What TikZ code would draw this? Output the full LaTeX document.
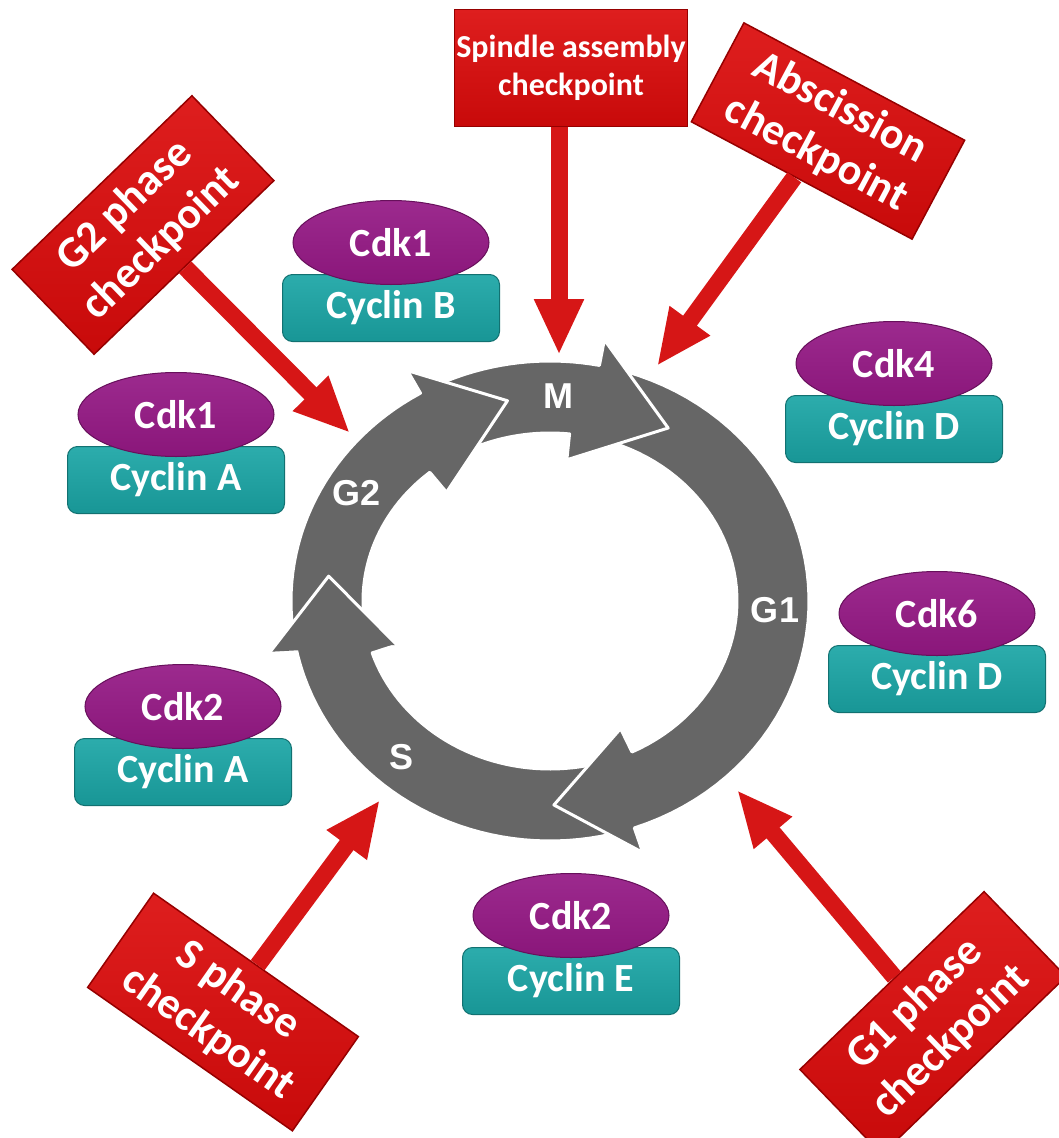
\documentclass[tikz,border=0pt]{standalone}
\usepackage{fontspec}
\setmainfont{Carlito}
\newfontfamily\phasefont{Liberation Sans}
\usepackage{tikz}
\usetikzlibrary{shapes,arrows.meta,positioning}

\definecolor{ringgray}{RGB}{102,102,102}
\definecolor{cdkpurple}{RGB}{138,22,122}
\definecolor{cdklight}{RGB}{156,42,142}
\definecolor{cycteal}{RGB}{24,150,150}
\definecolor{cyclight}{RGB}{44,172,172}
\definecolor{ckred}{RGB}{200,10,10}
\definecolor{cklight}{RGB}{222,30,30}
\definecolor{ckdark}{RGB}{150,0,0}
\definecolor{arrowred}{RGB}{214,22,22}

\begin{document}
\begin{tikzpicture}[
    x=1pt, y=-1pt,
    cyclin/.style={rectangle, top color=cyclight, bottom color=cycteal, draw=cycteal!75!black, line width=1pt, text=white, rounded corners=10pt, minimum width=217pt, minimum height=67pt, inner sep=0pt, font=\fontsize{40}{44}\selectfont\bfseries},
    cdk/.style={ellipse, top color=cdklight, bottom color=cdkpurple, draw=cdkpurple!75!black, line width=1pt, text=white, minimum width=196pt, minimum height=84pt, inner sep=0pt, font=\fontsize{40}{44}\selectfont\bfseries},
    check/.style={rectangle, top color=cklight, bottom color=ckred, draw=ckdark, line width=1.5pt, text=white, align=center, minimum width=250pt, minimum height=118pt, inner sep=0pt, font=\fontsize{44}{52}\selectfont\bfseries},
    phase/.style={text=white, inner sep=0pt, font=\phasefont\fontsize{36}{36}\selectfont\bfseries},
    ringseg/.style={fill=ringgray, draw=white, line width=3pt, line join=round},
    redarrow/.style={-{Triangle[length=56pt,width=46pt]}, draw=arrowred, line width=17pt}
]
\useasboundingbox (0,0) rectangle (1059,1138);
\fill[white] (0,0) rectangle (1059,1138);

% Cell cycle ring
\begin{scope}[shift={(550,601)}]
% S
\filldraw[ringseg] plot[domain=74:169, samples=40] ({259*cos(\x)},{240*sin(\x)})
  -- ({285*cos(169)},{266*sin(169)}) -- ({223*cos(187)},{204*sin(187)}) -- ({161*cos(162)},{142*sin(162)})
  -- plot[domain=162:74, samples=40] ({187*cos(\x)},{168*sin(\x)}) -- cycle;
% G1
\filldraw[ringseg] plot[domain=284:431, samples=50] ({259*cos(\x)},{240*sin(\x)})
  -- ({285*cos(431)},{266*sin(431)}) -- ({223*cos(449)},{204*sin(449)}) -- ({161*cos(424)},{142*sin(424)})
  -- plot[domain=424:284, samples=50] ({187*cos(\x)},{168*sin(\x)}) -- cycle;
% M
\filldraw[ringseg] plot[domain=243:281, samples=20] ({259*cos(\x)},{240*sin(\x)})
  -- ({285*cos(281)},{266*sin(281)}) -- ({223*cos(302)},{204*sin(302)}) -- ({161*cos(276)},{142*sin(276)})
  -- plot[domain=276:243, samples=20] ({187*cos(\x)},{168*sin(\x)}) -- cycle;
% G2
\filldraw[ringseg] plot[domain=173:240, samples=30] ({259*cos(\x)},{240*sin(\x)})
  -- ({285*cos(240)},{266*sin(240)}) -- ({223*cos(259)},{204*sin(259)}) -- ({161*cos(230)},{142*sin(230)})
  -- plot[domain=230:173, samples=30] ({187*cos(\x)},{168*sin(\x)}) -- cycle;
% S head again, on top of the G2 tail
\fill[ringgray] ({285*cos(169)},{266*sin(169)}) -- ({223*cos(187)},{204*sin(187)}) -- ({161*cos(162)},{142*sin(162)}) -- cycle;
\draw[white, line width=3pt, line join=round] ({285*cos(169)},{266*sin(169)}) -- ({223*cos(187)},{204*sin(187)}) -- ({161*cos(162)},{142*sin(162)});
\end{scope}

% Phase labels
\node[phase] (lblM) at (558,396) {M};
\node[phase] (lblGtwo) at (357,493) {G2};
\node[phase] (lblGone) at (775,610) {G1};
\node[phase] (lblS) at (402,757) {S};

% Cyclin - Cdk complexes
\node[cyclin] (cycB) at (391,308) {Cyclin B};
\node[cdk, above=-11pt of cycB] (cdkoneB) {Cdk1};

\node[cyclin] (cycAone) at (176,480) {Cyclin A};
\node[cdk, above=-11pt of cycAone] (cdkoneA) {Cdk1};

\node[cyclin] (cycDfour) at (894,429) {Cyclin D};
\node[cdk, above=-11pt of cycDfour] (cdkfour) {Cdk4};

\node[cyclin] (cycDsix) at (937,679) {Cyclin D};
\node[cdk, above=-11pt of cycDsix] (cdksix) {Cdk6};

\node[cyclin] (cycAtwo) at (183,772) {Cyclin A};
\node[cdk, above=-11pt of cycAtwo] (cdktwoA) {Cdk2};

\node[cyclin] (cycE) at (571,981) {Cyclin E};
\node[cdk, above=-11pt of cycE] (cdktwoE) {Cdk2};

% Checkpoints
\node[check, minimum width=233pt, minimum height=117pt, font=\fontsize{32}{38}\selectfont\bfseries] (spindle) at (571,68) {Spindle assembly\\checkpoint};
\node[check, rotate=44] (gtwochk) at (143,225) {G2 phase\\checkpoint};
\node[check, rotate=-28, minimum height=112pt] (abscission) at (828,131) {Abscission\\checkpoint};
\node[check, rotate=-35, minimum height=115pt] (schk) at (223,1012) {S phase\\checkpoint};
\node[check, rotate=44, minimum width=256pt] (gonechk) at (933,1023) {G1 phase\\checkpoint};

% Arrow tips at the ring
\coordinate (tipM) at (559,355);
\coordinate (tipAbs) at (657,366);
\coordinate (tipGtwo) at (350,433);
\coordinate (tipS) at (380,800);
\coordinate (tipGone) at (737,790);

% Arrows
\draw[redarrow] (spindle.south -| tipM) -- (tipM);
\draw[redarrow] (abscission) -- (tipAbs);
\draw[redarrow] (gtwochk) -- (tipGtwo);
\draw[redarrow] (schk) -- (tipS);
\draw[redarrow] (gonechk) -- (tipGone);

\end{tikzpicture}
\end{document}
